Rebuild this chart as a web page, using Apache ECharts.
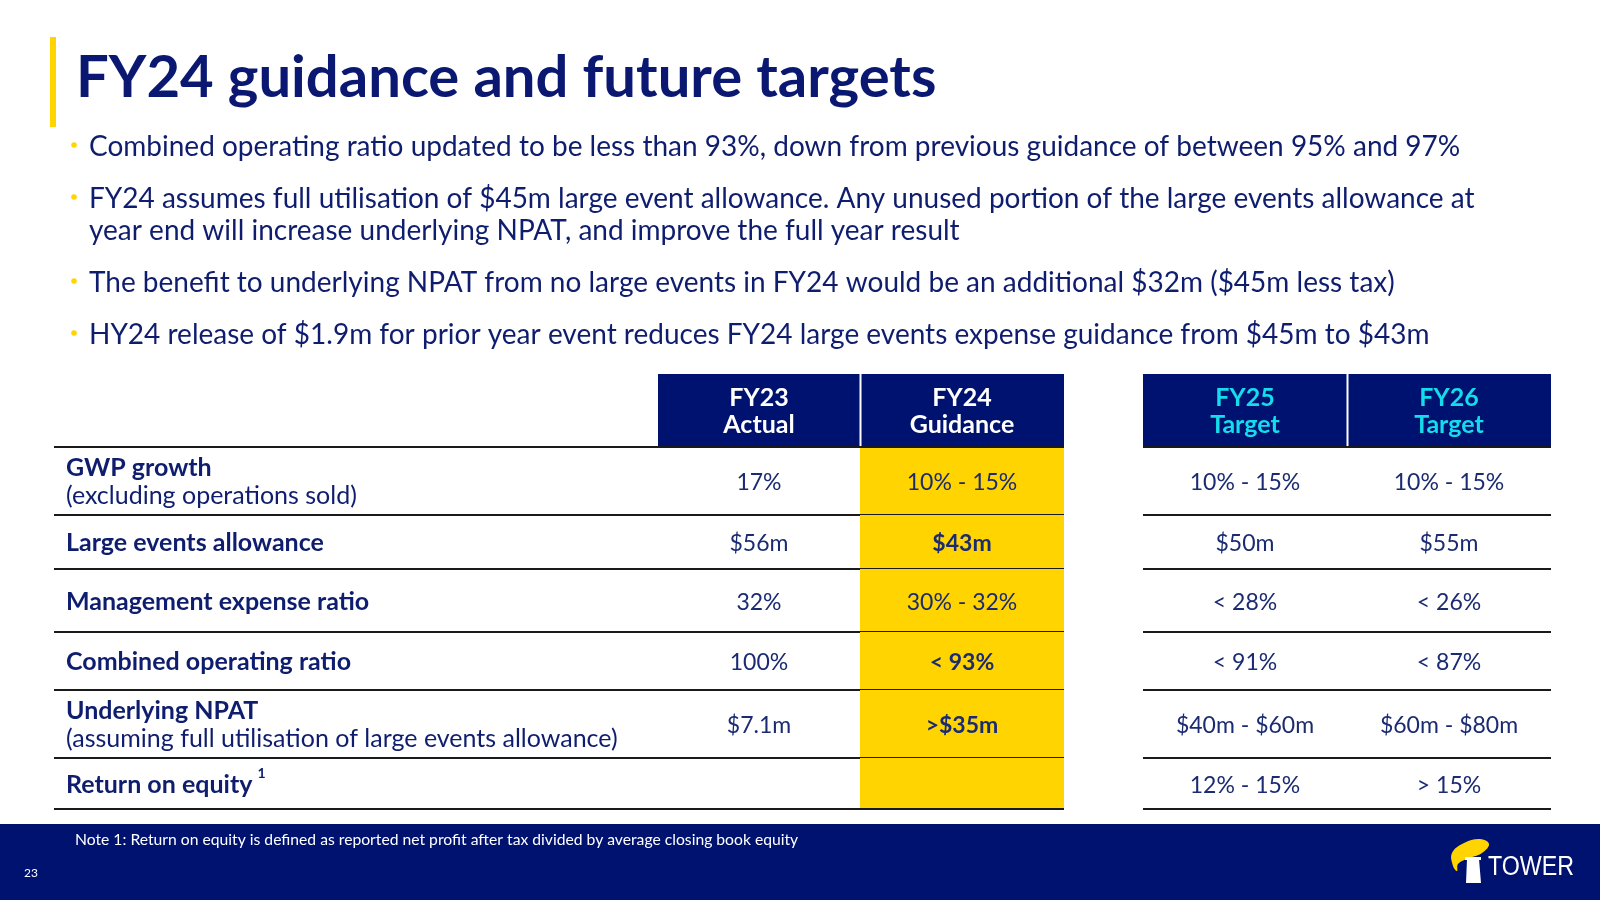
<!DOCTYPE html>
<html><head><meta charset="utf-8">
<script src="https://cdn.jsdelivr.net/npm/echarts@6/dist/echarts.min.js"></script>
<style>html,body{margin:0;padding:0;background:#fff}#c{width:1600px;height:900px}</style>
</head><body><div id="c"></div>
<script>
// ---------- content ----------
const titleText = 'FY24 guidance and future targets';
const bulletLines = [
  ['Combined operating ratio updated to be less than 93%, down from previous guidance of between 95% and 97%'],
  ['FY24 assumes full utilisation of $45m large event allowance. Any unused portion of the large events allowance at',
   'year end will increase underlying NPAT, and improve the full year result'],
  ['The benefit to underlying NPAT from no large events in FY24 would be an additional $32m ($45m less tax)'],
  ['HY24 release of $1.9m for prior year event reduces FY24 large events expense guidance from $45m to $43m']
];
const headerTop = ['FY23', 'FY24', 'FY25', 'FY26'];
const headerBottom = ['Actual', 'Guidance', 'Target', 'Target'];
const rowLabels = ['GWP growth', 'Large events allowance', 'Management expense ratio', 'Combined operating ratio', 'Underlying NPAT', 'Return on equity'];
const rowSubLabels = ['(excluding operations sold)', '', '', '', '(assuming full utilisation of large events allowance)', ''];
const rowNoteMarks = ['', '', '', '', '', '1'];
const fy23Actual = ['17%', '$56m', '32%', '100%', '$7.1m', ''];
const fy24Guidance = ['10% - 15%', '$43m', '30% - 32%', '< 93%', '>$35m', ''];
const fy24Bold = [false, true, false, true, true, false];
const fy25Target = ['10% - 15%', '$50m', '< 28%', '< 91%', '$40m - $60m', '12% - 15%'];
const fy26Target = ['10% - 15%', '$55m', '< 26%', '< 87%', '$60m - $80m', '> 15%'];
const footNote = 'Note 1: Return on equity is defined as reported net profit after tax divided by average closing book equity';
const pageNumber = '23';
const logoText = 'TOWER';

// ---------- styling / layout ----------
const NAVY = '#001270';
const TEXT = '#0f1d6e';
const VAL = '#1b2b72';
const YELLOW = '#FFD400';
const CYAN = '#14DCEB';
const FONT = 'Lato, "Open Sans", sans-serif';
const COLS = { label: [54, 658], fy23: [658, 860], fy24: [860, 1064], fy25: [1143, 1347], fy26: [1347, 1551] };
const HEAD = [374, 447];
const ROWS = [447, 515, 569, 632, 690, 758, 809];
const headCols = ['fy23', 'fy24', 'fy25', 'fy26'];
const headColors = ['#ffffff', '#ffffff', CYAN, CYAN];
const valueCols = [['fy23', fy23Actual], ['fy24', fy24Guidance], ['fy25', fy25Target], ['fy26', fy26Target]];

const measureCtx = document.createElement('canvas').getContext('2d');
function textWidth(t, font) { measureCtx.font = font; return measureCtx.measureText(t).width; }

function txt(x, y, text, o) {
  return {
    type: 'text',
    style: {
      text: text, x: x, y: y, fill: o.fill || TEXT,
      font: o.font, textAlign: o.align || 'left', textVerticalAlign: 'middle',
      align: o.align || 'left', verticalAlign: 'middle'
    }
  };
}

const chart = echarts.init(document.getElementById('c'), null, { renderer: 'canvas' });

function pt(api, x, y) { return api.coord([x, y]); }

const headerSeries = {
  type: 'custom', name: 'header', clip: false, silent: true,
  data: headerTop.map((t, i) => [i, i]),
  renderItem: function (params, api) {
    const i = params.dataIndex;
    const c = COLS[headCols[i]];
    const a = pt(api, c[0], HEAD[0]), b = pt(api, c[1], HEAD[1]);
    const cx = (a[0] + b[0]) / 2;
    const children = [
      { type: 'rect', shape: { x: a[0], y: a[1], width: b[0] - a[0], height: b[1] - a[1] }, style: { fill: NAVY } },
      txt(cx, a[1] + 24, headerTop[i], { fill: headColors[i], font: 'bold 25px ' + FONT, align: 'center' }),
      txt(cx, a[1] + 51, headerBottom[i], { fill: headColors[i], font: 'bold 25px ' + FONT, align: 'center' })
    ];
    if (i === 1 || i === 3) {
      children.push({ type: 'line', shape: { x1: a[0] + 0.5, y1: a[1], x2: a[0] + 0.5, y2: b[1] }, style: { stroke: '#ffffff', lineWidth: 2 } });
    }
    return { type: 'group', children: children };
  }
};

const rowSeries = {
  type: 'custom', name: 'rows', clip: false, silent: true,
  data: rowLabels.map((t, i) => [i, i]),
  renderItem: function (params, api) {
    const i = params.dataIndex;
    const top = pt(api, 0, ROWS[i])[1], bot = pt(api, 0, ROWS[i + 1])[1];
    const mid = (top + bot) / 2 + 1;
    const children = [];
    const ya = pt(api, COLS.fy24[0], ROWS[i]), yb = pt(api, COLS.fy24[1], ROWS[i + 1]);
    children.push({ type: 'rect', shape: { x: ya[0], y: ya[1], width: yb[0] - ya[0], height: yb[1] - ya[1] }, style: { fill: YELLOW } });
    const lx = pt(api, 66, 0)[0];
    const labFont = 'bold 25px ' + FONT;
    if (rowSubLabels[i]) {
      children.push(txt(lx, mid - 14, rowLabels[i], { font: labFont }));
      children.push(txt(lx, mid + 14, rowSubLabels[i], { font: '25px ' + FONT }));
    } else {
      children.push(txt(lx, mid, rowLabels[i], { font: labFont }));
    }
    if (rowNoteMarks[i]) {
      const w = textWidth(rowLabels[i], labFont);
      children.push(txt(lx + w + 5, mid - 11, rowNoteMarks[i], { font: 'bold 14px ' + FONT }));
    }
    valueCols.forEach(function (vc) {
      const c = COLS[vc[0]];
      const v = vc[1][i];
      if (!v) return;
      const cx = (pt(api, c[0], 0)[0] + pt(api, c[1], 0)[0]) / 2;
      const bold = vc[0] === 'fy24' && fy24Bold[i];
      children.push(txt(cx, mid + 1, v, { fill: VAL, font: (bold ? 'bold ' : '') + '23px ' + FONT, align: 'center' }));
    });
    const ruleY = [bot];
    if (i === 0) ruleY.push(top);
    ruleY.forEach(function (y) {
      [[COLS.label[0], COLS.fy24[1]], [COLS.fy25[0], COLS.fy26[1]]].forEach(function (seg) {
        const p1 = pt(api, seg[0], 0)[0], p2 = pt(api, seg[1], 0)[0];
        children.push({ type: 'line', shape: { x1: p1, y1: y, x2: p2, y2: y }, style: { stroke: '#1a1a1a', lineWidth: 2 } });
      });
    });
    return { type: 'group', children: children };
  }
};

// ---------- slide furniture ----------
const graphics = [
  { type: 'rect', shape: { x: 50, y: 37, width: 6, height: 90 }, style: { fill: YELLOW } },
  { type: 'text', x: 76, y: 78, style: { text: titleText, fill: '#0a1872', font: 'bold 58px ' + FONT, verticalAlign: 'middle', textVerticalAlign: 'middle' } },
  { type: 'rect', shape: { x: 0, y: 824, width: 1600, height: 76 }, style: { fill: NAVY } },
  { type: 'text', x: 75, y: 840, style: { text: footNote, fill: '#ffffff', font: '15.7px ' + FONT, verticalAlign: 'middle', textVerticalAlign: 'middle' } },
  { type: 'text', x: 24, y: 873, style: { text: pageNumber, fill: '#ffffff', font: '12px ' + FONT, verticalAlign: 'middle', textVerticalAlign: 'middle' } },
  // logo
  { type: 'polygon', shape: { smooth: 0.4, points: [[1453, 866], [1452, 853], [1464, 843], [1480, 839], [1489, 844], [1482, 853], [1467, 859], [1458, 864], [1457, 871]] }, style: { fill: YELLOW } },
  { type: 'polygon', shape: { points: [[1467, 859], [1479, 859], [1481, 883], [1466, 883]] }, style: { fill: '#ffffff' } },
  { type: 'rect', shape: { x: 1465, y: 857, width: 16, height: 3 }, style: { fill: '#ffffff' } },
  { type: 'text', x: 1488, y: 868, scaleX: 0.86, style: { text: logoText, fill: '#ffffff', font: '27px "Liberation Sans", sans-serif', verticalAlign: 'middle', textVerticalAlign: 'middle' } }
];
const bulletY = [147, 199, 283, 335];
bulletLines.forEach(function (lines, bi) {
  graphics.push({ type: 'circle', shape: { cx: 74, cy: bulletY[bi] - 2, r: 2.8 }, style: { fill: YELLOW } });
  lines.forEach(function (ln, li) {
    graphics.push({ type: 'text', x: 89, y: bulletY[bi] + li * 32, style: { text: ln, fill: TEXT, font: '28px ' + FONT, verticalAlign: 'middle', textVerticalAlign: 'middle' } });
  });
});

chart.setOption({
  animation: false,
  backgroundColor: '#ffffff',
  grid: { left: 0, right: 0, top: 0, bottom: 0 },
  xAxis: { type: 'value', min: 0, max: 1600, show: false },
  yAxis: { type: 'value', min: 0, max: 900, inverse: true, show: false },
  graphic: graphics,
  series: [headerSeries, rowSeries]
});
</script>
</body></html>
